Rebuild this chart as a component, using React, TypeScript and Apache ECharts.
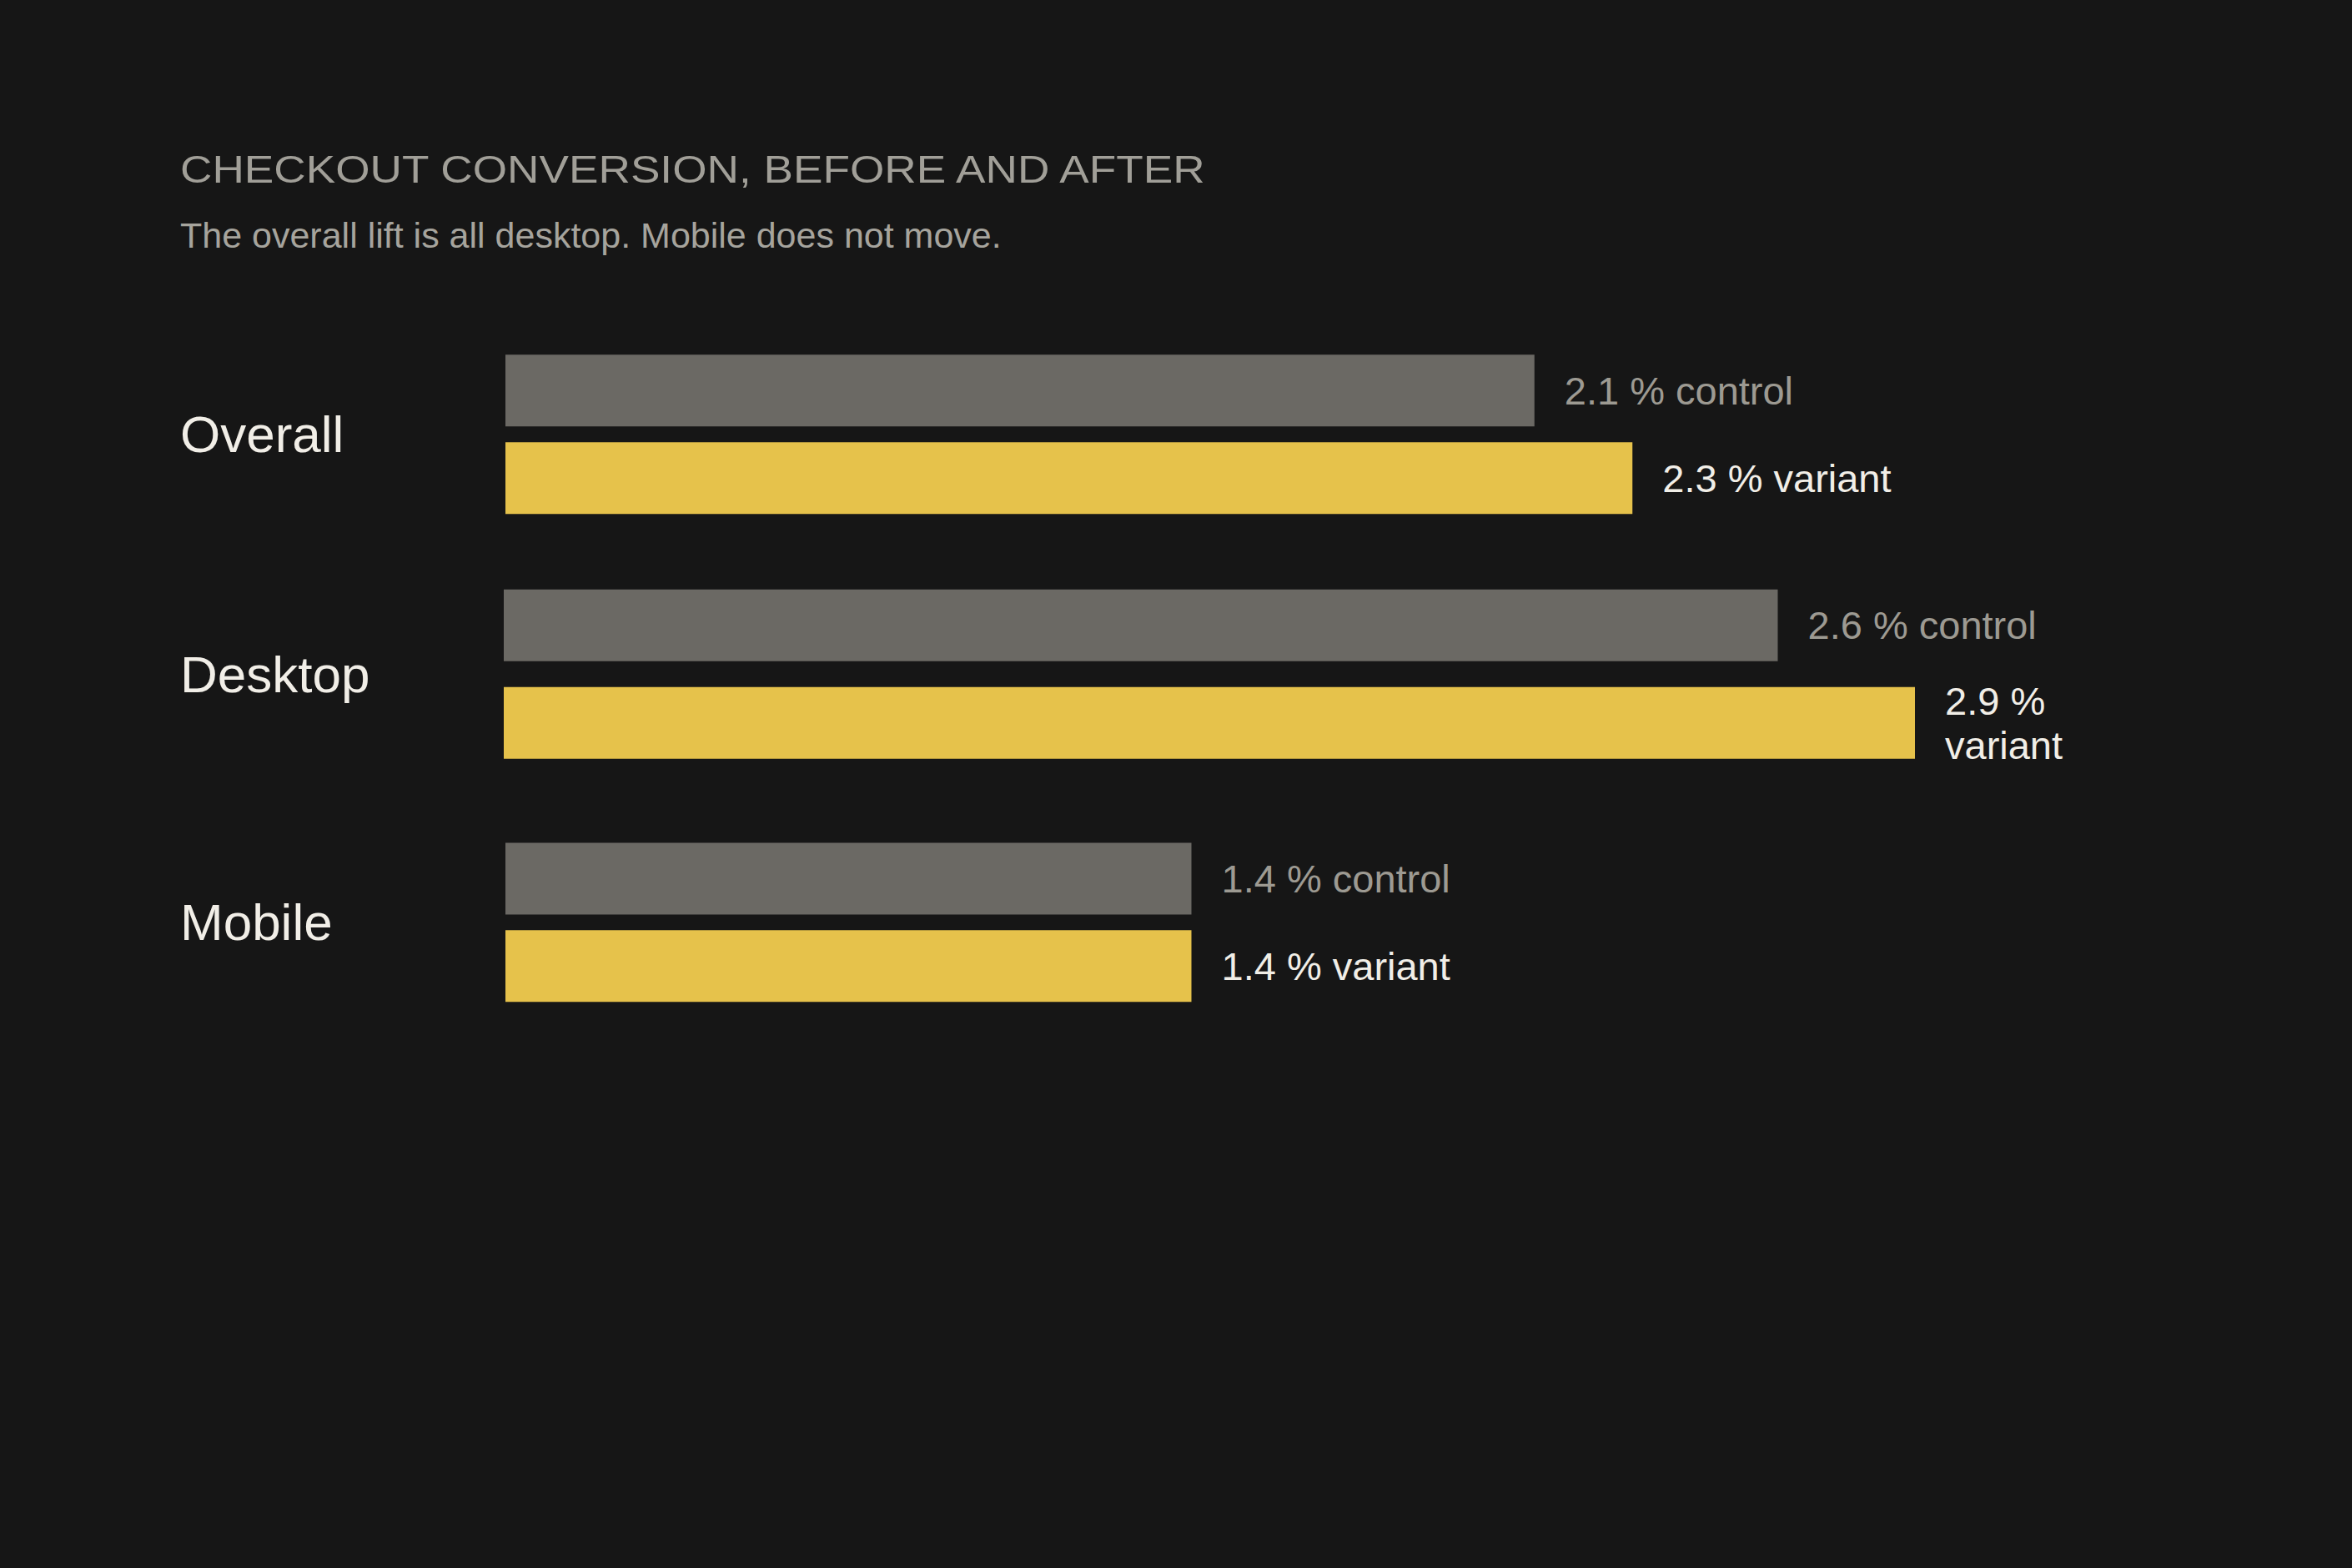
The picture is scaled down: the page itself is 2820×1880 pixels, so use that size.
import React, { useEffect, useRef } from "react";
import * as echarts from "echarts";

// ---- data ----
const CATEGORIES = ["Overall", "Desktop", "Mobile"];
const SERIES_NAMES = ["control", "variant"];
const CONTROL = [2.1, 2.6, 1.4];
const VARIANT = [2.3, 2.88, 1.4];
const TITLE = "CHECKOUT CONVERSION, BEFORE AND AFTER";
const SUBTITLE = "The overall lift is all desktop. Mobile does not move.";

// ---- layout (not data) ----
const W = 2820;
const H = 1880;
const FONT = "'Liberation Sans', Arial, Helvetica, sans-serif";
const TEXT_LEFT = 216;
const GROUP_CENTER = [520.7, 808.2, 1105.9];
const GROUP_LEFT = [606, 604, 606];
const GROUP_GAP = ["22%", "36%", "22%"];
const X_MAX = 3.5;
const PX_PER_UNIT = 587.5;
const LABEL_DIST = 36;
const LABEL_RIGHT_LIMIT = 2520;
const BAR_H = 86;
const GRID_H = 240;

const COLORS = {
  bg: "#161616",
  control: "#6b6964",
  variant: "#e6c24b",
  controlText: "#9d9a92",
  variantText: "#f1eee7",
  catText: "#f1eee7",
  title: "#a19f98",
  subtitle: "#a6a49d",
};

function buildOption() {
  const grid: any[] = [];
  const xAxis: any[] = [];
  const yAxis: any[] = [];
  const series: any[] = [];
  const lists = [CONTROL, VARIANT];

  CATEGORIES.forEach((cat, i) => {
    grid.push({
      left: GROUP_LEFT[i],
      top: GROUP_CENTER[i] - GRID_H / 2,
      width: X_MAX * PX_PER_UNIT,
      height: GRID_H,
      containLabel: false,
      outerBoundsMode: "none",
    });
    xAxis.push({
      type: "value",
      gridIndex: i,
      min: 0,
      max: X_MAX,
      show: false,
      splitLine: { show: false },
    });
    yAxis.push({
      type: "category",
      gridIndex: i,
      data: [cat],
      axisLine: { show: false },
      axisTick: { show: false },
      splitLine: { show: false },
      axisLabel: {
        align: "left",
        margin: GROUP_LEFT[i] - TEXT_LEFT,
        fontSize: 62,
        fontFamily: FONT,
        color: COLORS.catText,
      },
    });
    SERIES_NAMES.forEach((name, s) => {
      const v = lists[s][i];
      const avail = LABEL_RIGHT_LIMIT - (GROUP_LEFT[i] + v * PX_PER_UNIT + LABEL_DIST);
      series.push({
        type: "bar",
        name,
        xAxisIndex: i,
        yAxisIndex: i,
        barWidth: BAR_H,
        barGap: GROUP_GAP[i],
        itemStyle: { color: s === 0 ? COLORS.control : COLORS.variant },
        label: {
          show: true,
          position: "right",
          distance: LABEL_DIST,
          fontSize: 47,
          lineHeight: 53,
          fontFamily: FONT,
          color: s === 0 ? COLORS.controlText : COLORS.variantText,
          formatter: (p: any) => `${Number(p.value).toFixed(1)} % ${name}`,
        },
        data: [
          {
            value: v,
            label: { width: avail, overflow: "break" },
          },
        ],
      });
    });
  });

  return {
    animation: false,
    backgroundColor: COLORS.bg,
    grid,
    xAxis,
    yAxis,
    series,
    graphic: [
      {
        type: "text",
        x: TEXT_LEFT,
        y: 203,
        scaleX: 1.132,
        style: {
          text: TITLE,
          fontSize: 47,
          fontFamily: FONT,
          fill: COLORS.title,
          verticalAlign: "middle",
          align: "left",
        },
      },
      {
        type: "text",
        x: TEXT_LEFT,
        y: 281.5,
        style: {
          text: SUBTITLE,
          fontSize: 43,
          fontFamily: FONT,
          fill: COLORS.subtitle,
          verticalAlign: "middle",
          align: "left",
        },
      },
    ],
  };
}

export default function App() {
  const ref = useRef<HTMLDivElement>(null);
  useEffect(() => {
    document.body.style.margin = "0";
    document.body.style.background = COLORS.bg;
    if (!ref.current) return;
    const chart = echarts.init(ref.current, undefined, { renderer: "svg" });
    chart.setOption(buildOption() as any);
    return () => chart.dispose();
  }, []);
  return <div ref={ref} style={{ width: W, height: H }} />;
}
